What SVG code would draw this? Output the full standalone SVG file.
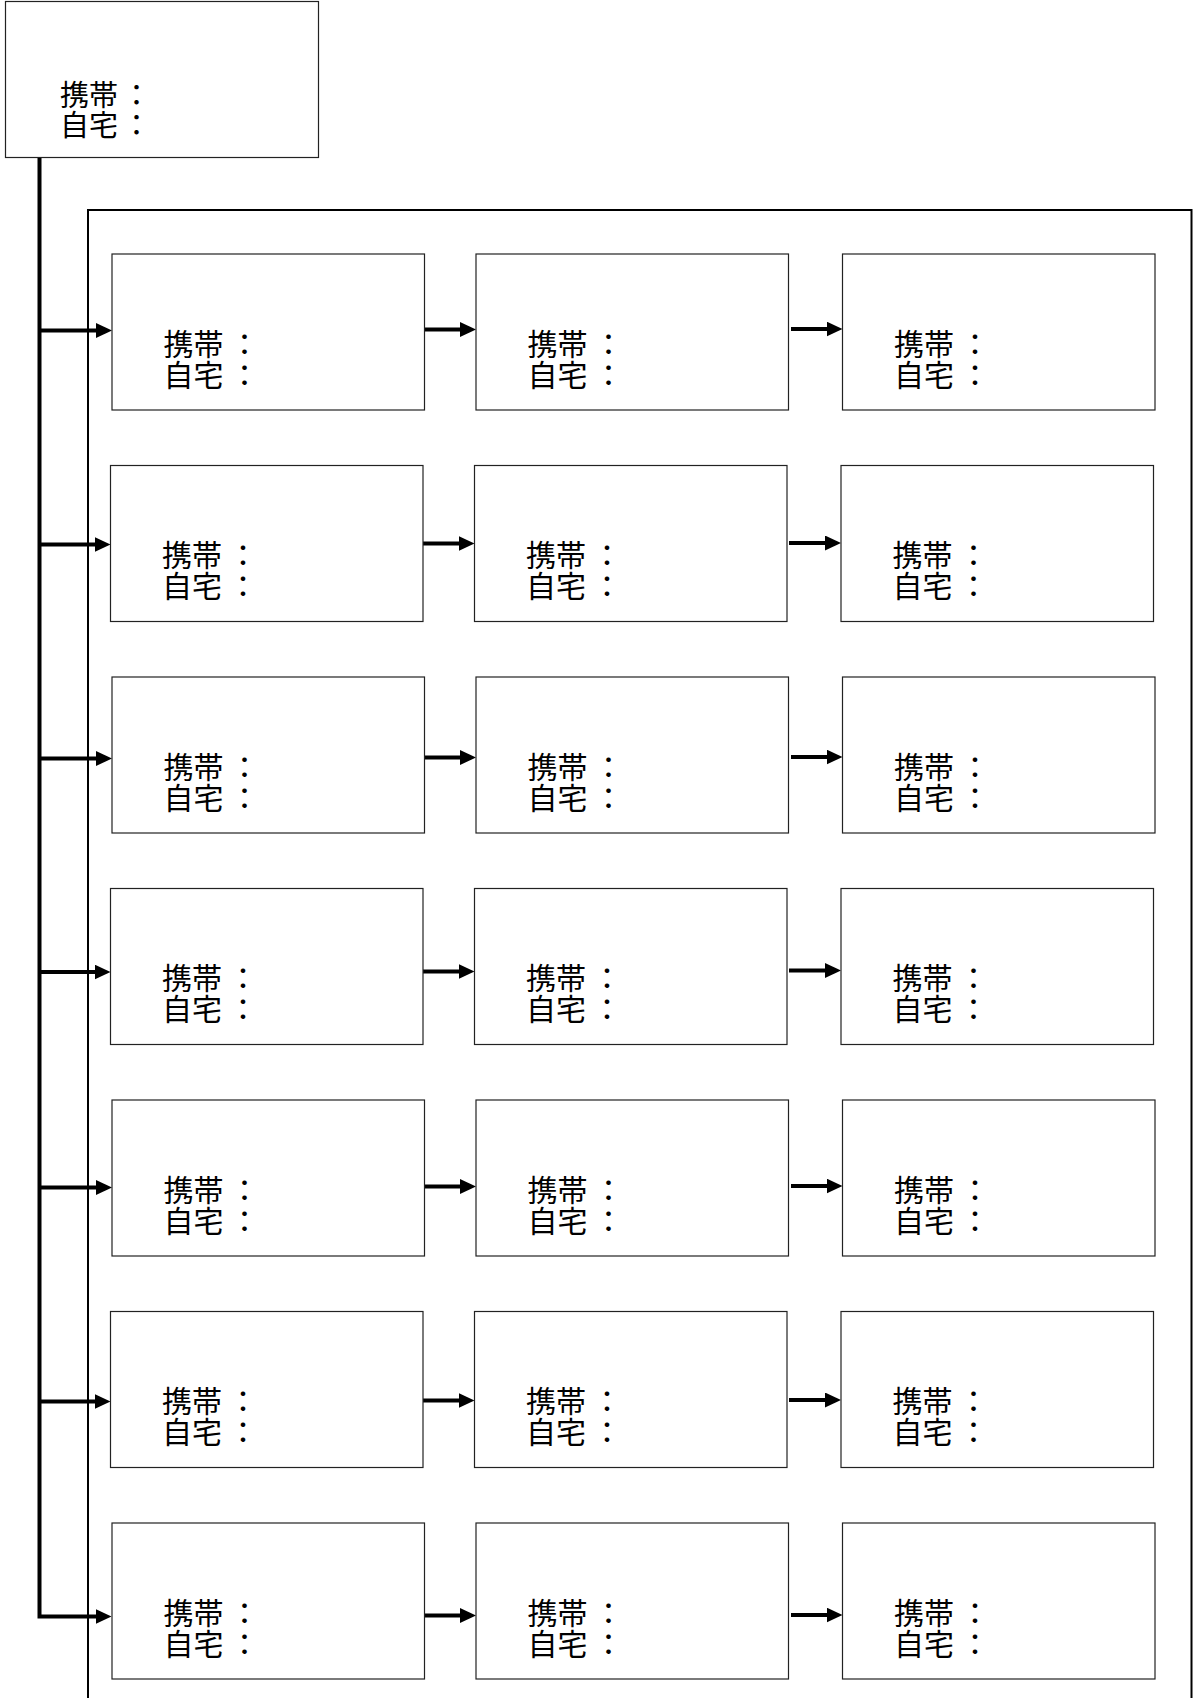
<svg xmlns="http://www.w3.org/2000/svg" width="1194" height="1698" viewBox="0 0 1194 1698">
<style>
.box{fill:#fff;stroke:#222;stroke-width:1.2}
.frame{fill:none;stroke:#000;stroke-width:2}
.con{fill:none;stroke:#000;stroke-width:4}
.t{font-family:"Noto Sans CJK JP","Noto Sans CJK SC",sans-serif;font-size:30px;fill:#000}
.tt{font-family:"Noto Sans CJK JP","Noto Sans CJK SC",sans-serif;font-size:29px;fill:#000}
</style>
<defs>
<marker id="ah" markerUnits="userSpaceOnUse" markerWidth="16" markerHeight="15" refX="4" refY="7.5" orient="auto">
<path d="M0,0 L16,7.5 L0,15 z" fill="#000"/>
</marker>
</defs>
<rect class="frame" x="88" y="210" width="1103.5" height="1600"/>
<g id="top">
<rect class="box" x="5.5" y="1.5" width="313" height="156"/>
<text class="tt" x="60" y="106">携帯<tspan dx="4">：</tspan></text>
<text class="tt" x="60" y="136">自宅<tspan dx="4">：</tspan></text>
</g>
<g id="connectors">
<path class="con" d="M39.5,158 V1616.5 H99.5" marker-end="url(#ah)"/>
<path class="con" d="M39.5,330.5 H100" marker-end="url(#ah)"/>
<path class="con" d="M39.5,544.5 H98.5" marker-end="url(#ah)"/>
<path class="con" d="M39.5,758.5 H100" marker-end="url(#ah)"/>
<path class="con" d="M39.5,972 H98.5" marker-end="url(#ah)"/>
<path class="con" d="M39.5,1187.5 H100" marker-end="url(#ah)"/>
<path class="con" d="M39.5,1401.5 H98.5" marker-end="url(#ah)"/>
<path class="con" d="M424.5,329.5 H464" marker-end="url(#ah)"/>
<path class="con" d="M791,329 H830.5" marker-end="url(#ah)"/>
<path class="con" d="M423,543.5 H462.5" marker-end="url(#ah)"/>
<path class="con" d="M789,543 H829" marker-end="url(#ah)"/>
<path class="con" d="M424.5,757.5 H464" marker-end="url(#ah)"/>
<path class="con" d="M791,757 H830.5" marker-end="url(#ah)"/>
<path class="con" d="M423,971.5 H462.5" marker-end="url(#ah)"/>
<path class="con" d="M789,970.5 H829" marker-end="url(#ah)"/>
<path class="con" d="M424.5,1186.5 H464" marker-end="url(#ah)"/>
<path class="con" d="M791,1186 H830.5" marker-end="url(#ah)"/>
<path class="con" d="M423,1400.5 H462.5" marker-end="url(#ah)"/>
<path class="con" d="M789,1400 H829" marker-end="url(#ah)"/>
<path class="con" d="M424.5,1615.5 H464" marker-end="url(#ah)"/>
<path class="con" d="M791,1615 H830.5" marker-end="url(#ah)"/>
</g>
<g id="r1c1"><rect class="box" x="112" y="254" width="312.5" height="156"/><text class="t" x="163.5" y="354.5">携帯<tspan dx="6">：</tspan></text><text class="t" x="163.5" y="385.5">自宅<tspan dx="6">：</tspan></text></g>
<g id="r1c2"><rect class="box" x="476" y="254" width="312.5" height="156"/><text class="t" x="527.5" y="354.5">携帯<tspan dx="6">：</tspan></text><text class="t" x="527.5" y="385.5">自宅<tspan dx="6">：</tspan></text></g>
<g id="r1c3"><rect class="box" x="842.5" y="254" width="312.5" height="156"/><text class="t" x="894" y="354.5">携帯<tspan dx="6">：</tspan></text><text class="t" x="894" y="385.5">自宅<tspan dx="6">：</tspan></text></g>
<g id="r2c1"><rect class="box" x="110.5" y="465.5" width="312.5" height="156"/><text class="t" x="162" y="566">携帯<tspan dx="6">：</tspan></text><text class="t" x="162" y="597">自宅<tspan dx="6">：</tspan></text></g>
<g id="r2c2"><rect class="box" x="474.5" y="465.5" width="312.5" height="156"/><text class="t" x="526" y="566">携帯<tspan dx="6">：</tspan></text><text class="t" x="526" y="597">自宅<tspan dx="6">：</tspan></text></g>
<g id="r2c3"><rect class="box" x="841" y="465.5" width="312.5" height="156"/><text class="t" x="892.5" y="566">携帯<tspan dx="6">：</tspan></text><text class="t" x="892.5" y="597">自宅<tspan dx="6">：</tspan></text></g>
<g id="r3c1"><rect class="box" x="112" y="677" width="312.5" height="156"/><text class="t" x="163.5" y="777.5">携帯<tspan dx="6">：</tspan></text><text class="t" x="163.5" y="808.5">自宅<tspan dx="6">：</tspan></text></g>
<g id="r3c2"><rect class="box" x="476" y="677" width="312.5" height="156"/><text class="t" x="527.5" y="777.5">携帯<tspan dx="6">：</tspan></text><text class="t" x="527.5" y="808.5">自宅<tspan dx="6">：</tspan></text></g>
<g id="r3c3"><rect class="box" x="842.5" y="677" width="312.5" height="156"/><text class="t" x="894" y="777.5">携帯<tspan dx="6">：</tspan></text><text class="t" x="894" y="808.5">自宅<tspan dx="6">：</tspan></text></g>
<g id="r4c1"><rect class="box" x="110.5" y="888.5" width="312.5" height="156"/><text class="t" x="162" y="989">携帯<tspan dx="6">：</tspan></text><text class="t" x="162" y="1020">自宅<tspan dx="6">：</tspan></text></g>
<g id="r4c2"><rect class="box" x="474.5" y="888.5" width="312.5" height="156"/><text class="t" x="526" y="989">携帯<tspan dx="6">：</tspan></text><text class="t" x="526" y="1020">自宅<tspan dx="6">：</tspan></text></g>
<g id="r4c3"><rect class="box" x="841" y="888.5" width="312.5" height="156"/><text class="t" x="892.5" y="989">携帯<tspan dx="6">：</tspan></text><text class="t" x="892.5" y="1020">自宅<tspan dx="6">：</tspan></text></g>
<g id="r5c1"><rect class="box" x="112" y="1100" width="312.5" height="156"/><text class="t" x="163.5" y="1200.5">携帯<tspan dx="6">：</tspan></text><text class="t" x="163.5" y="1231.5">自宅<tspan dx="6">：</tspan></text></g>
<g id="r5c2"><rect class="box" x="476" y="1100" width="312.5" height="156"/><text class="t" x="527.5" y="1200.5">携帯<tspan dx="6">：</tspan></text><text class="t" x="527.5" y="1231.5">自宅<tspan dx="6">：</tspan></text></g>
<g id="r5c3"><rect class="box" x="842.5" y="1100" width="312.5" height="156"/><text class="t" x="894" y="1200.5">携帯<tspan dx="6">：</tspan></text><text class="t" x="894" y="1231.5">自宅<tspan dx="6">：</tspan></text></g>
<g id="r6c1"><rect class="box" x="110.5" y="1311.5" width="312.5" height="156"/><text class="t" x="162" y="1412">携帯<tspan dx="6">：</tspan></text><text class="t" x="162" y="1443">自宅<tspan dx="6">：</tspan></text></g>
<g id="r6c2"><rect class="box" x="474.5" y="1311.5" width="312.5" height="156"/><text class="t" x="526" y="1412">携帯<tspan dx="6">：</tspan></text><text class="t" x="526" y="1443">自宅<tspan dx="6">：</tspan></text></g>
<g id="r6c3"><rect class="box" x="841" y="1311.5" width="312.5" height="156"/><text class="t" x="892.5" y="1412">携帯<tspan dx="6">：</tspan></text><text class="t" x="892.5" y="1443">自宅<tspan dx="6">：</tspan></text></g>
<g id="r7c1"><rect class="box" x="112" y="1523" width="312.5" height="156"/><text class="t" x="163.5" y="1623.5">携帯<tspan dx="6">：</tspan></text><text class="t" x="163.5" y="1654.5">自宅<tspan dx="6">：</tspan></text></g>
<g id="r7c2"><rect class="box" x="476" y="1523" width="312.5" height="156"/><text class="t" x="527.5" y="1623.5">携帯<tspan dx="6">：</tspan></text><text class="t" x="527.5" y="1654.5">自宅<tspan dx="6">：</tspan></text></g>
<g id="r7c3"><rect class="box" x="842.5" y="1523" width="312.5" height="156"/><text class="t" x="894" y="1623.5">携帯<tspan dx="6">：</tspan></text><text class="t" x="894" y="1654.5">自宅<tspan dx="6">：</tspan></text></g>
</svg>
